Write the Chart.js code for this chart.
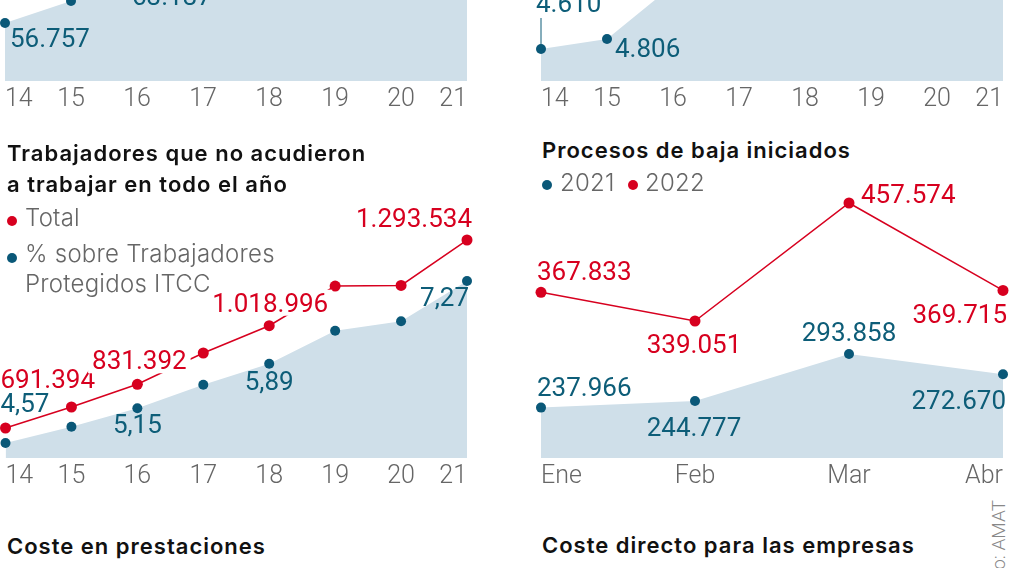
<!DOCTYPE html>
<html lang="es">
<head>
<meta charset="utf-8">
<title>Absentismo laboral</title>
<script src="https://cdn.jsdelivr.net/npm/chart.js@4.4.1/dist/chart.umd.min.js"></script>
<style>
  html, body { margin: 0; padding: 0; background: #fff; overflow: hidden; }
  body { width: 1009px; height: 568px; position: relative; font-family: Roboto, "Liberation Sans", sans-serif; }
  canvas { position: absolute; }
  .t { position: absolute; white-space: nowrap; }
  .title { font-family: Inter, Roboto, sans-serif; font-weight: 600; font-size: 22px; line-height: 31px; color: #111; letter-spacing: 1px; }
  .leg { font-family: Inter, Roboto, sans-serif; font-weight: 300; font-size: 24px; line-height: 30px; color: #666; letter-spacing: 0.25px; }
  .dot { position: absolute; width: 10px; height: 10px; border-radius: 50%; }
  .credit { position: absolute; left: 989px; top: 700px; width: 200px; text-align: right; font-size: 19px; line-height: 19px;
            color: #888; font-weight: 300; transform-origin: 0 0; transform: rotate(-90deg); white-space: nowrap; }
</style>
</head>
<body>

<canvas id="topLeft" width="480" height="340" style="left:0;top:-220px"></canvas>
<canvas id="topRight" width="480" height="340" style="left:530px;top:-220px"></canvas>
<canvas id="ausentes" width="480" height="310" style="left:0;top:190px"></canvas>
<canvas id="procesos" width="480" height="330" style="left:530px;top:170px"></canvas>

<div class="t title" style="left:7px;top:138px">Trabajadores que no acudieron<br>a trabajar en todo el año</div>
<span class="dot" style="left:7px;top:216px;background:#d7001f"></span>
<div class="t leg" style="left:25px;top:203px">Total</div>
<span class="dot" style="left:7px;top:253px;background:#0a5878"></span>
<div class="t leg" style="left:25px;top:239px">% sobre Trabajadores</div>
<div class="t leg" style="left:25px;top:269px">Protegidos ITCC</div>

<div class="t title" style="left:542px;top:135px">Procesos de baja iniciados</div>
<span class="dot" style="left:542px;top:180px;background:#0a5878"></span>
<div class="t leg" style="left:560px;top:168px">2021</div>
<span class="dot" style="left:628px;top:180px;background:#d7001f"></span>
<div class="t leg" style="left:645px;top:168px">2022</div>

<div class="t title" style="left:7px;top:531px">Coste en prestaciones</div>
<div class="t title" style="left:542px;top:530px">Coste directo para las empresas</div>

<div class="credit">Gráfico: AMAT</div>

<script>
// Datos
const years = ["14", "15", "16", "17", "18", "19", "20", "21"]
const months = ["Ene", "Feb", "Mar", "Abr"]

// paneles superiores (solo se ve el arranque de la serie)
const topLeftValues = [56757, 63137, 71500, 78900, 85200, 92300, 97800, 104600]
const topRightValues = [4610, 4806, 5860, 6500, 7100, 7700, 8200, 8800]

// trabajadores que no acudieron a trabajar en todo el año
const totalAusentes = [691394, 758700, 831392, 931600, 1018996, 1146000, 1148000, 1293534]
const pctProtegidos = [4.57, 4.84, 5.15, 5.54, 5.89, 6.44, 6.6, 7.27]

// procesos de baja iniciados
const bajas2021 = [237966, 244777, 293858, 272670]
const bajas2022 = [367833, 339051, 457574, 369715]

const RED = "#d7001f"
const TEAL = "#0a5878"
const TEAL_TEXT = "#0d5d78"
const AREA = "#cfdfe9"
const GREY = "#666"

const fmtMiles = (v) => String(Math.round(v)).replace(/\B(?=(\d{3})+(?!\d))/g, ".")
const fmtPct = (v) => v.toFixed(2).replace(".", ",")

// etiquetas de valor dibujadas sobre los puntos
const valueLabels = {
  id: "valueLabels",
  afterDatasetsDraw(chart, args, opts) {
    const ctx = chart.ctx
    ctx.save()
    ctx.font = "400 26px Roboto"
    ctx.textBaseline = "alphabetic"
    ;(opts.items || []).forEach((it) => {
      const ds = chart.data.datasets[it.ds]
      const pt = chart.getDatasetMeta(it.ds).data[it.i]
      const text = ds.fmt(ds.data[it.i])
      const x = pt.x + it.dx
      const y = pt.y + it.dy
      const w = ctx.measureText(text).width
      let x0 = x
      if (it.align === "center") x0 = x - w / 2
      if (it.align === "right") x0 = x - w
      if (it.bg) {
        ctx.fillStyle = "#fff"
        ctx.fillRect(x0 - 4, y - 22, w + 8, 26)
      }
      if (it.leader) {
        ctx.strokeStyle = ds.textColor
        ctx.lineWidth = 1
        ctx.beginPath()
        ctx.moveTo(pt.x, pt.y)
        ctx.lineTo(pt.x, y + 6)
        ctx.stroke()
      }
      ctx.fillStyle = ds.textColor
      ctx.textAlign = "left"
      ctx.fillText(text, x0, y)
    })
    ctx.restore()
  },
}

function xAxis(height) {
  return {
    grid: { display: false, drawTicks: false },
    border: { display: false },
    ticks: {
      align: "inner",
      color: GREY,
      font: { family: "Roboto", size: 25, weight: "300" },
      padding: 4,
      maxRotation: 0,
      autoSkip: false,
    },
    afterFit: (scale) => {
      scale.height = height
    },
  }
}

function areaSet(values, fmt, axis) {
  return {
    data: values,
    yAxisID: axis,
    fill: "start",
    backgroundColor: AREA,
    borderColor: "rgba(0,0,0,0)",
    borderWidth: 1,
    pointRadius: 5,
    pointBackgroundColor: TEAL,
    pointBorderWidth: 0,
    tension: 0,
    clip: false,
    fmt: fmt,
    textColor: TEAL_TEXT,
  }
}

function lineSet(values, fmt, axis) {
  return {
    data: values,
    yAxisID: axis,
    fill: false,
    borderColor: RED,
    borderWidth: 1.5,
    pointRadius: 5.5,
    pointBackgroundColor: RED,
    pointBorderWidth: 0,
    tension: 0,
    clip: false,
    fmt: fmt,
    textColor: RED,
  }
}

function baseOptions(padding, scales, items) {
  return {
    responsive: false,
    animation: false,
    events: [],
    layout: { padding: padding },
    plugins: {
      legend: { display: false },
      tooltip: { enabled: false },
      valueLabels: { items: items },
    },
    scales: scales,
  }
}

new Chart(document.getElementById("topLeft"), {
  type: "line",
  data: { labels: years, datasets: [areaSet(topLeftValues, fmtMiles, "y")] },
  options: baseOptions(
    { top: 20, left: 5, right: 13, bottom: 0 },
    { x: xAxis(39), y: { display: false, min: 39937, max: 121427 } },
    [
      { ds: 0, i: 0, dx: 5, dy: 24, align: "left" },
      { ds: 0, i: 1, dx: 61, dy: 4, align: "left" },
    ]
  ),
  plugins: [valueLabels],
})

new Chart(document.getElementById("topRight"), {
  type: "line",
  data: { labels: years, datasets: [areaSet(topRightValues, fmtMiles, "y")] },
  options: baseOptions(
    { top: 20, left: 11, right: 7, bottom: 0 },
    { x: xAxis(39), y: { display: false, min: 3983, max: 9491 } },
    [
      { ds: 0, i: 0, dx: -5, dy: -37, align: "left", leader: true },
      { ds: 0, i: 1, dx: 8, dy: 18, align: "left" },
    ]
  ),
  plugins: [valueLabels],
})

new Chart(document.getElementById("ausentes"), {
  type: "line",
  data: {
    labels: years,
    datasets: [lineSet(totalAusentes, fmtMiles, "yTotal"), areaSet(pctProtegidos, fmtPct, "yPct")],
  },
  options: baseOptions(
    { top: 10, left: 5, right: 13, bottom: 0 },
    {
      x: xAxis(42),
      yTotal: { display: false, min: 595304, max: 1421678 },
      yPct: { display: false, min: 4.32, max: 8.62 },
    },
    [
      { ds: 0, i: 0, dx: -5, dy: -40, align: "left", bg: true },
      { ds: 0, i: 2, dx: 2, dy: -15, align: "center", bg: true },
      { ds: 0, i: 4, dx: 1, dy: -14, align: "center", bg: true },
      { ds: 0, i: 7, dx: 5, dy: -13, align: "right", bg: true },
      { ds: 1, i: 0, dx: -5, dy: -31, align: "left" },
      { ds: 1, i: 2, dx: 0, dy: 25, align: "center" },
      { ds: 1, i: 4, dx: 0, dy: 26, align: "center" },
      { ds: 1, i: 7, dx: 2, dy: 25, align: "right" },
    ]
  ),
  plugins: [valueLabels],
})

new Chart(document.getElementById("procesos"), {
  type: "line",
  data: {
    labels: months,
    datasets: [lineSet(bajas2022, fmtMiles, "y22"), areaSet(bajas2021, fmtMiles, "y21")],
  },
  options: baseOptions(
    { top: 10, left: 11, right: 7, bottom: 0 },
    {
      x: xAxis(42),
      y22: { display: false, min: 201448, max: 480671 },
      y21: { display: false, min: 185375, max: 475413 },
    },
    [
      { ds: 0, i: 0, dx: -4, dy: -12, align: "left" },
      { ds: 0, i: 1, dx: -1, dy: 32, align: "center" },
      { ds: 0, i: 2, dx: 12, dy: 0, align: "left" },
      { ds: 0, i: 3, dx: 4, dy: 33, align: "right" },
      { ds: 1, i: 0, dx: -4, dy: -12, align: "left" },
      { ds: 1, i: 1, dx: -1, dy: 35, align: "center" },
      { ds: 1, i: 2, dx: 0, dy: -13, align: "center" },
      { ds: 1, i: 3, dx: 3, dy: 35, align: "right" },
    ]
  ),
  plugins: [valueLabels],
})
</script>
</body>
</html>
